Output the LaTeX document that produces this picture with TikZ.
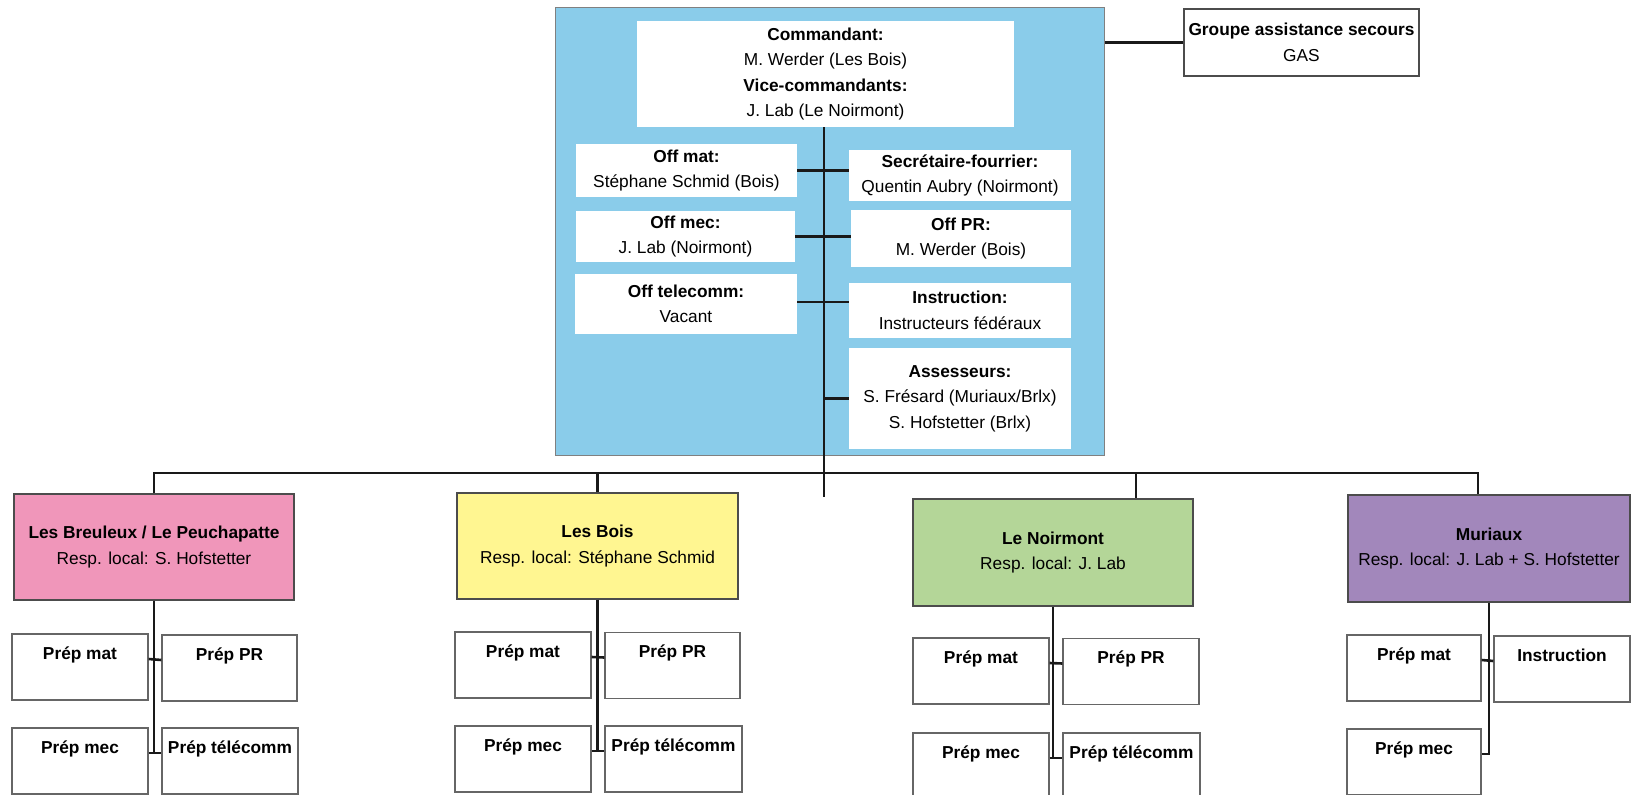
\documentclass[tikz,border=0pt]{standalone}
\usepackage{fontspec}
\setmainfont{Liberation Sans}
\definecolor{skyb}{RGB}{138,204,234}
\definecolor{pinkc}{RGB}{240,150,186}
\definecolor{yellc}{RGB}{255,246,145}
\definecolor{greenc}{RGB}{180,214,152}
\definecolor{purpc}{RGB}{162,135,187}
\begin{document}
\begin{tikzpicture}[x=1pt,y=-1pt,
  txt/.style={align=center, inner sep=0pt, font=\fontsize{17.3}{25.5}\selectfont},
  wbox/.style={txt, fill=white},
  sbox/.style={txt, fill=white, draw=black!60, line width=1.2pt, minimum width=136pt, minimum height=66pt, text height=25pt, text depth=41pt},
  cbox/.style={txt, draw=black!70, line width=1.2pt, minimum width=280pt, minimum height=106pt},
  conn/.style={draw=black!90, line width=2.6pt}]
\useasboundingbox (0,0) rectangle (1633,795);
% central block
\node[fill=skyb, draw=black!50, line width=1pt, inner sep=0pt, minimum width=549pt, minimum height=448pt] (blue) at (829.5,231) {};
\node[wbox, minimum width=377pt, minimum height=106pt] (cmd) at (825.5,74)
  {\textbf{Commandant:}\\M. Werder (Les Bois)\\\textbf{Vice-commandants:}\\J. Lab (Le Noirmont)};
\node[wbox, minimum width=221pt, minimum height=53pt] (offmat) at (686.5,170.5) {\textbf{Off mat:}\\Stéphane Schmid (Bois)};
\node[wbox, minimum width=219pt, minimum height=51pt] (offmec) at (685.5,236.5) {\textbf{Off mec:}\\J. Lab (Noirmont)};
\node[wbox, minimum width=222pt, minimum height=60pt] (offtel) at (686,304) {\textbf{Off telecomm:}\\Vacant};
\node[wbox, minimum width=222pt, minimum height=51pt] (secr) at (960,175.5) {\textbf{Secrétaire-fourrier:}\\Quentin Aubry (Noirmont)};
\node[wbox, minimum width=220pt, minimum height=57pt] (offpr) at (961,238.5) {\textbf{Off PR:}\\M. Werder (Bois)};
\node[wbox, minimum width=222pt, minimum height=55pt] (instr) at (960,310.5) {\textbf{Instruction:}\\Instructeurs fédéraux};
\node[wbox, minimum width=222pt, minimum height=101pt] (asses) at (960,398.5) {\textbf{Assesseurs:}\\S. Frésard (Muriaux/Brlx)\\S. Hofstetter (Brlx)};
\node[wbox, draw=black!70, line width=1.2pt, minimum width=235pt, minimum height=67pt] (gas) at (1301.5,42.5) {\textbf{Groupe assistance secours}\\GAS};
% local groups
\node[cbox, fill=pinkc] (pink) at (154,547) {\textbf{Les Breuleux / Le Peuchapatte}\\Resp. local: S. Hofstetter};
\node[cbox, fill=yellc, minimum width=281pt] (bois) at (597.5,546) {\textbf{Les Bois}\\Resp. local: Stéphane Schmid};
\node[cbox, fill=greenc, minimum height=107pt] (noir) at (1053,552.5) {\textbf{Le Noirmont}\\Resp. local: J. Lab};
\node[cbox, fill=purpc, minimum width=282pt, minimum height=107pt] (mur) at (1489,548.5) {\textbf{Muriaux}\\Resp. local: J. Lab + S. Hofstetter};
% pink children
\node[sbox] (apm) at (80,667) {\textbf{Prép mat}};
\node[sbox, minimum width=135pt] (apr) at (229.5,668) {\textbf{Prép PR}};
\node[sbox] (ame) at (80,761) {\textbf{Prép mec}};
\node[sbox] (ate) at (230,761) {\textbf{Prép télécomm}};
% bois children
\node[sbox] (bpm) at (523,665) {\textbf{Prép mat}};
\node[sbox, minimum width=135pt] (bpr) at (672.5,665.5) {\textbf{Prép PR}};
\node[sbox] (bme) at (523,759) {\textbf{Prép mec}};
\node[sbox, minimum width=137pt] (bte) at (673.5,759) {\textbf{Prép télécomm}};
% noirmont children
\node[sbox] (cpm) at (981,671) {\textbf{Prép mat}};
\node[sbox] (cpr) at (1131,671.5) {\textbf{Prép PR}};
\node[sbox] (cme) at (981,766) {\textbf{Prép mec}};
\node[sbox, minimum width=137pt] (cte) at (1131.5,766) {\textbf{Prép télécomm}};
% muriaux children
\node[sbox, minimum width=134pt] (dpm) at (1414,668) {\textbf{Prép mat}};
\node[sbox] (din) at (1562,669) {\textbf{Instruction}};
\node[sbox, minimum width=134pt] (dme) at (1414,762) {\textbf{Prép mec}};
% central connectors
\coordinate (spb) at (824,497);
\draw[conn] (cmd.south -| spb) -- (spb);
\draw[conn] (gas.west) -- (gas.west -| blue.east);
\draw[conn] (offmat.east) -- (offmat.east -| secr.west);
\draw[conn] (offmec.east) -- (offmec.east -| offpr.west);
\draw[conn] ([yshift=2pt]offtel.east) -- ([yshift=2pt]offtel.east -| instr.west);
\draw[conn] (asses.west) -- (asses.west -| spb);
% bus
\coordinate (busR) at (1478,473);
\coordinate (nd) at (1136,473);
\draw[conn] (pink.north) -- (pink.north |- busR) -- (busR) -- (busR |- mur.north);
\draw[conn] (bois.north) -- (bois.north |- busR);
\draw[conn] (nd) -- (nd |- noir.north);
% group connectors
\coordinate (a1) at ([yshift=8pt]apm.east); \coordinate (a2) at ([yshift=8pt]ame.east);
\draw[conn] (pink.south) -- (a2 -| pink.south);
\draw[conn] (a1) -- ([yshift=8pt]apr.west);
\draw[conn] (a2) -- ([yshift=8pt]ate.west);
\coordinate (b1) at ([yshift=8pt]bpm.east); \coordinate (b2) at ([yshift=8pt]bme.east);
\draw[conn] (bois.south) -- (b2 -| bois.south);
\draw[conn] (b1) -- ([yshift=8pt]bpr.west);
\draw[conn] (b2) -- ([yshift=8pt]bte.west);
\coordinate (c1) at ([yshift=8pt]cpm.east); \coordinate (c2) at ([yshift=8pt]cme.east);
\draw[conn] (noir.south) -- (c2 -| noir.south);
\draw[conn] (c1) -- ([yshift=8pt]cpr.west);
\draw[conn] (c2) -- ([yshift=8pt]cte.west);
\coordinate (d1) at ([yshift=8pt]dpm.east); \coordinate (d2) at ([yshift=8pt]dme.east);
\draw[conn] (mur.south) -- (d2 -| mur.south) -- (d2);
\draw[conn] (d1) -- ([yshift=8pt]din.west);
\end{tikzpicture}
\end{document}
